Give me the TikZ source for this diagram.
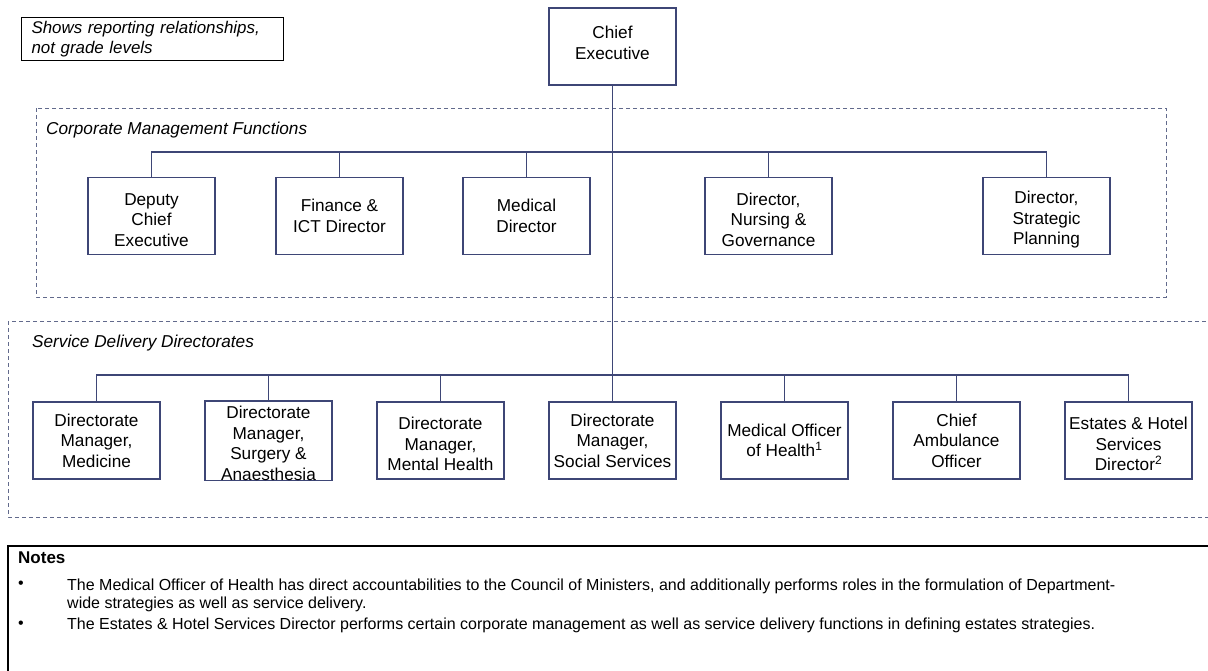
\documentclass[tikz,border=0pt]{standalone}
\usepackage{fontspec}
\setmainfont{Liberation Sans}
\usetikzlibrary{positioning}

\definecolor{orgline}{RGB}{62,70,118}
\definecolor{orgdash}{RGB}{98,106,140}

\begin{document}
\begin{tikzpicture}[
  x=1pt, y=-1pt,
  node distance=45pt,
  font=\fontsize{17.2}{20.5}\selectfont,
  role/.style={draw=orgline, line width=1.3pt, rectangle, minimum width=127pt, minimum height=77pt, align=center, inner sep=2pt, outer sep=0pt},
  lowtext/.style={text height=61pt},
  group/.style={draw=orgdash, line width=1pt, dash pattern=on 4pt off 3pt},
  grouplabel/.style={anchor=west, inner sep=0pt, font=\fontsize{17.2}{20.5}\selectfont\itshape},
  link/.style={draw=orgline, line width=1.3pt},
  notetext/.style={anchor=west, inner sep=0pt, align=left, font=\fontsize{16}{18}\selectfont}
]
\useasboundingbox (0,0) rectangle (1208,670);

% Groups
\draw[group] (36,108) rectangle (1166,297);
\draw[group] (8,321) rectangle (1230,517);
\node[grouplabel] (cmf) at (46,130) {Corporate Management Functions};
\node[grouplabel] (sdd) at (32,343) {Service Delivery Directorates};

% Legend
\node[draw, line width=1pt, anchor=north west, minimum height=43pt, text width=242pt, inner xsep=10pt, inner ysep=2pt, align=left, font=\fontsize{16.9}{20}\selectfont\itshape] (legend) at (21,17) {Shows reporting relationships,\\ not grade levels};

% Nodes
\node[role, text depth=7pt] (ce) at (612.5,46.5) {Chief\\ Executive};

\node[role, lowtext] (dce) at (151.5,216) {Deputy\\ Chief\\ Executive};
\node[role, right=61pt of dce] (fin) {Finance \&\\ ICT Director};
\node[role, right=60pt of fin] (med) {Medical\\ Director};
\node[role, lowtext, right=115pt of med] (nur) {Director,\\ Nursing \&\\ Governance};
\node[role, lowtext, right=151pt of nur] (spl) {Director,\\ Strategic\\ Planning};

\node[role] (dmm) at (96.5,440.5) {Directorate\\ Manager,\\ Medicine};
\node[role, inner ysep=0pt, text height=79.3pt, text depth=-2pt, right=of dmm] (dms) {Directorate\\ Manager,\\ Surgery \&\\ Anaesthesia};
\node[role, lowtext, right=of dms] (dmh) {Directorate\\ Manager,\\ Mental Health};
\node[role, right=of dmh] (dss) {Directorate\\ Manager,\\ Social Services};
\node[role, right=of dss] (moh) {Medical Officer\\ of Health\textsuperscript{1}};
\node[role, right=of moh] (cao) {Chief\\ Ambulance\\ Officer};
\node[role, lowtext, right=of cao] (ehs) {Estates \& Hotel\\ Services\\ Director\textsuperscript{2}};

\coordinate (cbus) at (612.5,152);
\coordinate (sbus) at (612.5,375);

% Lines
\draw[link] (ce.south) -- (dss.north);
\draw[link] (dce.north) -- (dce.north |- cbus) -- (spl.north |- cbus) -- (spl.north);
\foreach \n in {fin,med,nur}
  \draw[link] (\n.north) -- (\n.north |- cbus);
\draw[link] (dmm.north) -- (dmm.north |- sbus) -- (ehs.north |- sbus) -- (ehs.north);
\foreach \n in {dms,dmh,moh,cao}
  \draw[link] (\n.north) -- (\n.north |- sbus);

% Notes
\draw[line width=1.2pt] (8,700) -- (8,546) -- (1230,546);
\node[anchor=west, inner sep=0pt, font=\fontsize{17}{20}\selectfont\bfseries] (notes) at (18,558) {Notes};
\node[notetext] (b1) at (18,585) {\textbullet};
\node[notetext] (b2) at (18,625) {\textbullet};
\node[notetext, anchor=north west] (n1) at (67,579) {The Medical Officer of Health has direct accountabilities to the Council of Ministers, and additionally performs roles in the formulation of Department-\\ wide strategies as well as service delivery.};
\node[notetext] (n2) at (67,625) {The Estates \& Hotel Services Director performs certain corporate management as well as service delivery functions in defining estates strategies.};

\end{tikzpicture}
\end{document}
